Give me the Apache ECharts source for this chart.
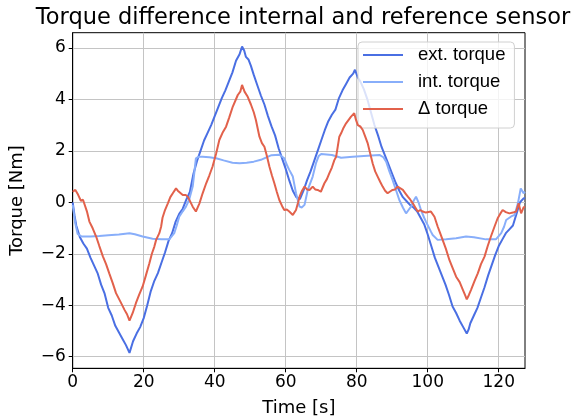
<!DOCTYPE html>
<html>
<head>
<meta charset="utf-8">
<script src="https://cdn.jsdelivr.net/npm/echarts@6/dist/echarts.min.js"></script>
<style>html,body{margin:0;padding:0;background:#fff}#c{width:572px;height:419px}</style>
</head>
<body>
<div id="c"></div>
<script>
const titleText = 'Torque difference internal and reference sensor';
const xName = 'Time [s]';
const yName = 'Torque [Nm]';
const seriesNames = ['ext. torque', 'int. torque', '\u0394 torque'];

const extTime = [0,0.5,1,2,3,4,5,6,7,8,9,10,11,12,13,14,15,16,16.5,17,18,19,20,21,22,23,24,25,26,27,28,29,30,31,32,33,34,35,36,37,38,39,40,41,42,43,44,45,46,47,47.7,48.3,48.8,49.5,50.2,51,52,53,54,55,56,57,58,59,60,61,62,63,64,65,66,67,68,69,70,71,72,73,74,75,76,77,78,79,79.5,80.3,81,82,83,84,85,86,87,88,89,90,91,92,93,94,95,96,97,98,99,100,101,102,103,104,105,106,107,108,109,110,111,111.5,112,113,114,115,116,117,118,119,120,121,122,123,124,125,126,127,127.4];
const extTorque = [0.0,-0.5,-0.9,-1.35,-1.6,-1.8,-2.15,-2.45,-2.75,-3.2,-3.55,-4.1,-4.4,-4.8,-5.05,-5.3,-5.55,-5.85,-5.8,-5.4,-5.1,-4.85,-4.5,-4.0,-3.45,-3.05,-2.75,-2.35,-1.95,-1.5,-1.2,-0.75,-0.45,-0.25,0.1,0.4,1.1,1.6,2.0,2.4,2.7,3.0,3.35,3.7,4.05,4.35,4.7,5.05,5.5,5.75,6.05,5.9,5.65,5.55,5.3,4.95,4.55,4.15,3.8,3.35,2.95,2.6,2.1,1.7,1.3,0.85,0.45,0.2,0.12,0.45,0.85,1.2,1.6,2.0,2.4,2.8,3.15,3.4,3.6,4.05,4.35,4.6,4.85,5.0,5.15,4.85,4.7,4.4,4.0,3.5,3.0,2.6,2.15,1.8,1.45,1.1,0.75,0.45,0.2,0.05,-0.1,-0.2,-0.35,-0.6,-0.85,-1.25,-1.7,-2.15,-2.5,-2.85,-3.2,-3.6,-4.05,-4.3,-4.6,-4.85,-5.1,-4.95,-4.7,-4.4,-4.1,-3.7,-3.3,-2.85,-2.45,-2.05,-1.7,-1.45,-1.2,-1.05,-0.9,-0.45,0.0,0.15,0.17];

const intTime = [0,0.7,1.4,2.5,5,7.5,10,13,16,17.5,19.7,22.5,25,27.2,28.6,29.3,30,31,31.9,32.8,33.8,34.3,34.7,35.5,36.6,38.5,40.4,42.5,45,47,49,51,53,56,58.2,59.6,60.5,61,62,62.9,63.9,64.5,65.3,66.2,67.6,68.5,69.3,70,73,75.6,78.9,82,86.4,87.5,88.3,89.2,90.1,91,92,93,93.9,94.6,95.3,96,96.7,97.4,98.1,99,99.5,100.9,101.4,102.8,105.2,108,110.8,113,116.4,119.2,120.7,121.5,122.1,123.5,124.5,125.4,126.2,127,127.4];
const intTorque = [-0.1,-0.8,-1.23,-1.33,-1.33,-1.31,-1.28,-1.25,-1.2,-1.24,-1.33,-1.42,-1.44,-1.44,-1.2,-0.9,-0.56,-0.35,-0.17,0.1,0.61,1.2,1.71,1.77,1.77,1.75,1.71,1.63,1.54,1.52,1.54,1.58,1.65,1.83,1.85,1.71,1.4,1.26,1.0,0.35,-0.17,-0.2,-0.1,0.48,1.0,1.51,1.8,1.88,1.84,1.73,1.77,1.8,1.84,1.75,1.58,1.2,0.87,0.5,0.09,-0.2,-0.43,-0.3,-0.17,0.05,0.22,0.0,-0.3,-0.6,-0.75,-1.14,-1.27,-1.46,-1.44,-1.4,-1.33,-1.36,-1.44,-1.44,-1.2,-0.95,-0.69,-0.55,-0.49,-0.04,0.54,0.35,0.41];

const deltaTime = [0,0.75,1.5,2.3,2.9,3.3,4,4.7,5.6,6.6,7.5,8.5,9.4,10.3,11.3,12.2,13.4,14.6,15.3,16,16.5,16.9,17.8,18.7,19.7,20.6,21.6,22.3,23,23.5,24.4,24.9,25.3,26,26.8,27.5,28.2,29.1,29.6,30,31,31.9,32.5,32.9,33.8,34.7,35.7,36.6,37.6,38.5,39.4,40.4,41.3,42.2,43.2,44.1,45.1,46.5,47.2,47.7,48.4,48.8,49.3,50.2,51,51.6,52.6,53.3,54,54.7,55.4,56.1,56.8,57.5,58.2,59,59.6,60.3,61,61.5,62,62.9,63.5,63.9,64.6,65.3,66,66.7,67.6,68.3,69,69.9,70.9,71.6,72.3,73,73.7,74.2,74.7,75.1,75.6,76.3,77,78.4,79.3,79.8,80.3,81,81.7,82.4,83.1,83.8,84.5,85.2,85.9,86.6,87.3,88,88.7,89.4,90.1,90.8,91.5,92.2,93,93.7,94.4,95.1,95.8,96.5,97.2,97.9,98.6,99.5,100.2,100.9,101.9,102.8,103.5,104.2,105.1,106.1,107,108,109,109.9,110.5,111,111.6,112.2,113.2,114.1,115,116,116.9,117.8,118.8,119.7,120.4,121.1,122,123,124,124.9,125.6,126.3,127,127.4];
const deltaTorque = [0.41,0.48,0.3,0.06,0.1,0.06,-0.35,-0.75,-1.0,-1.33,-1.7,-2.1,-2.4,-2.76,-3.15,-3.53,-3.85,-4.18,-4.35,-4.6,-4.55,-4.3,-3.92,-3.6,-3.27,-2.85,-2.37,-2.0,-1.72,-1.46,-1.2,-0.95,-0.6,-0.3,-0.04,0.2,0.35,0.54,0.45,0.48,0.28,0.28,0.2,0.16,-0.17,-0.36,-0.04,0.35,0.74,1.05,1.39,1.9,2.42,2.7,2.94,3.3,3.72,4.17,4.3,4.56,4.3,4.36,4.1,3.8,3.5,3.2,2.55,2.3,2.16,1.8,1.39,1.05,0.74,0.4,0.09,-0.15,-0.3,-0.28,-0.36,-0.3,-0.49,-0.3,0.0,0.22,0.45,0.61,0.5,0.48,0.61,0.5,0.48,0.41,0.74,0.9,1.13,1.35,1.64,1.77,2.2,2.55,2.68,2.9,3.07,3.33,3.46,3.2,3.0,2.95,2.81,2.55,2.29,1.9,1.51,1.2,1.0,0.8,0.61,0.45,0.35,0.42,0.48,0.5,0.61,0.55,0.48,0.35,0.22,0.1,-0.04,-0.2,-0.36,-0.3,-0.36,-0.4,-0.38,-0.36,-0.56,-0.94,-1.2,-1.46,-1.8,-2.24,-2.55,-2.89,-3.1,-3.4,-3.6,-3.77,-3.6,-3.4,-3.05,-2.76,-2.4,-2.11,-1.7,-1.33,-0.95,-0.62,-0.45,-0.3,-0.38,-0.43,-0.4,-0.36,-0.04,-0.43,-0.2,-0.17];

const xTicks = [0, 20, 40, 60, 80, 100, 120];
const yTicks = [-6, -4, -2, 0, 2, 4, 6];

function pairs(t, v) { return t.map((x, i) => [x, v[i]]); }

const colors = ['#4a6fe3', '#88aefa', '#e2614b'];
const chart = echarts.init(document.getElementById('c'), null, {renderer: 'canvas'});
const tickFont = {fontFamily: 'DejaVu Sans', fontSize: 17, color: '#000'};
chart.setOption({
  animation: false,
  backgroundColor: '#fff',
  title: {
    text: titleText, left: 298, top: 2, textAlign: 'center',
    textStyle: {fontFamily: 'DejaVu Sans', fontSize: 22.5, fontWeight: 'normal', color: '#000'}
  },
  grid: {left: 72.7, top: 32.7, width: 452.3, height: 335.6, show: true, borderColor: '#000', borderWidth: 1, backgroundColor: 'transparent', outerBoundsMode: 'none', containLabel: false},
  legend: {
    orient: 'vertical', left: 358, top: 42,
    padding: [3, 9, 9, 5], itemGap: 7, itemWidth: 40, itemHeight: 2, icon: 'rect',
    backgroundColor: 'rgba(255,255,255,0.8)', borderColor: '#d0d0d0', borderWidth: 1, borderRadius: 4,
    textStyle: {fontFamily: 'Liberation Sans', fontSize: 18.5, color: '#000', lineHeight: 20, padding: [0, 0, 0, 10]},
    data: seriesNames
  },
  xAxis: {
    type: 'value', min: 0, max: 127.4,
    name: xName, nameLocation: 'middle', nameGap: 31,
    nameTextStyle: {fontFamily: 'DejaVu Sans', fontSize: 18, color: '#000'},
    axisLine: {show: true, onZero: false, lineStyle: {color: '#000', width: 1}},
    axisTick: {show: true, length: 4, lineStyle: {color: '#000'}, customValues: xTicks},
    axisLabel: Object.assign({margin: 6, customValues: xTicks}, tickFont),
    splitLine: {show: true, lineStyle: {color: '#c4c4c4', width: 1}}
  },
  yAxis: {
    type: 'value', min: -6.45, max: 6.59,
    name: yName, nameLocation: 'middle', nameGap: 46, nameRotate: 90,
    nameTextStyle: {fontFamily: 'DejaVu Sans', fontSize: 18, color: '#000'},
    axisLine: {show: true, onZero: false, lineStyle: {color: '#000', width: 1}},
    axisTick: {show: true, length: 4, lineStyle: {color: '#000'}, customValues: yTicks},
    axisLabel: Object.assign({margin: 7, customValues: yTicks, formatter: v => (v < 0 ? '\u2212' + Math.abs(v) : String(v))}, tickFont),
    splitLine: {show: true, lineStyle: {color: '#c4c4c4', width: 1}}
  },
  series: [
    {name: seriesNames[0], type: 'line', data: pairs(extTime, extTorque), showSymbol: false, color: colors[0], lineStyle: {width: 2, color: colors[0]}, z: 2},
    {name: seriesNames[1], type: 'line', data: pairs(intTime, intTorque), showSymbol: false, color: colors[1], lineStyle: {width: 2, color: colors[1]}, z: 3},
    {name: seriesNames[2], type: 'line', data: pairs(deltaTime, deltaTorque), showSymbol: false, color: colors[2], lineStyle: {width: 2, color: colors[2]}, z: 4}
  ]
});
</script>
</body>
</html>
